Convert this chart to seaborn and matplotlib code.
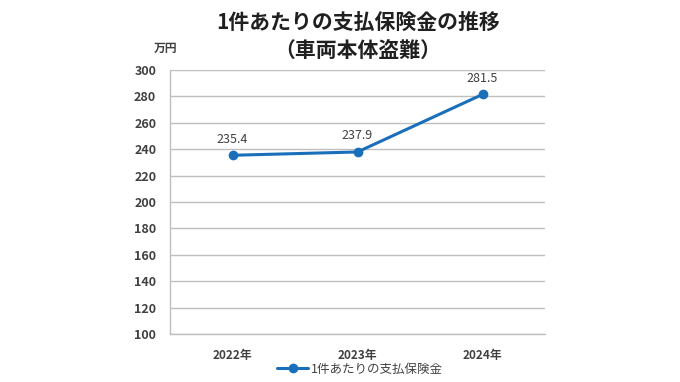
import matplotlib
matplotlib.use("Agg")
import matplotlib.pyplot as plt
import seaborn as sns
import pandas as pd

# data
years = ["2022年", "2023年", "2024年"]
payout = [235.4, 237.9, 281.5]
series_name = "1件あたりの支払保険金"
y_ticks = list(range(100, 301, 20))

df = pd.DataFrame({"year": years, "value": payout})

sns.set_theme(style="white")
plt.rcParams["font.family"] = ["Noto Sans CJK JP", "DejaVu Sans"]

fig = plt.figure(figsize=(6.8, 3.82), dpi=100)
ax = fig.add_axes([170 / 680, 1 - 334 / 382, 375 / 680, 264 / 382])

line_color = "#1a6fba"
x = list(range(len(years)))
sns.lineplot(x=x, y=df["value"], ax=ax, color=line_color, linewidth=2.2,
             marker="o", markersize=7, markeredgewidth=0, label=series_name)

for xi, v in zip(x, payout):
    ax.annotate(f"{v:.1f}", (xi, v), textcoords="offset points", xytext=(0, 7),
                ha="center", va="bottom", fontsize=9, color="#404040")

ax.set_xlim(-0.5, len(years) - 0.5)
ax.set_ylim(100, 300)
ax.set_yticks(y_ticks)
ax.set_xticks(x)
ax.set_xticklabels(years)
ax.grid(axis="y", color="#bfbfbf", linewidth=1)
ax.set_axisbelow(True)
for side in ["top", "right"]:
    ax.spines[side].set_visible(False)
for side in ["left", "bottom"]:
    ax.spines[side].set_color("#bfbfbf")
    ax.spines[side].set_linewidth(1)
ax.tick_params(axis="x", length=3, color="#bfbfbf", labelsize=8.5, labelcolor="#404040", pad=8)
ax.tick_params(axis="y", length=0, labelsize=9, labelcolor="#404040", pad=10)
for lbl in ax.get_xticklabels() + ax.get_yticklabels():
    lbl.set_fontweight("bold")
ax.set_xlabel("")
ax.set_ylabel("")

fig.text(358 / 680, 1 - 22 / 382, "1件あたりの支払保険金の推移", ha="center", va="center",
         fontsize=15, fontweight="bold", color="#202020")
fig.text(358 / 680, 1 - 50 / 382, "（車両本体盗難）", ha="center", va="center",
         fontsize=15, fontweight="bold", color="#202020")
fig.text(166 / 680, 1 - 48 / 382, "万円", ha="center", va="center",
         fontsize=8.5, fontweight="bold", color="#404040")

ax.legend(loc="center", frameon=False,
          fontsize=9, handlelength=2.5, handletextpad=0.2, labelcolor="#404040")
leg = ax.get_legend()
leg.set_bbox_to_anchor((360 / 680, 1 - 369 / 382), transform=fig.transFigure)

fig.savefig("out.png", dpi=100, facecolor="white")
